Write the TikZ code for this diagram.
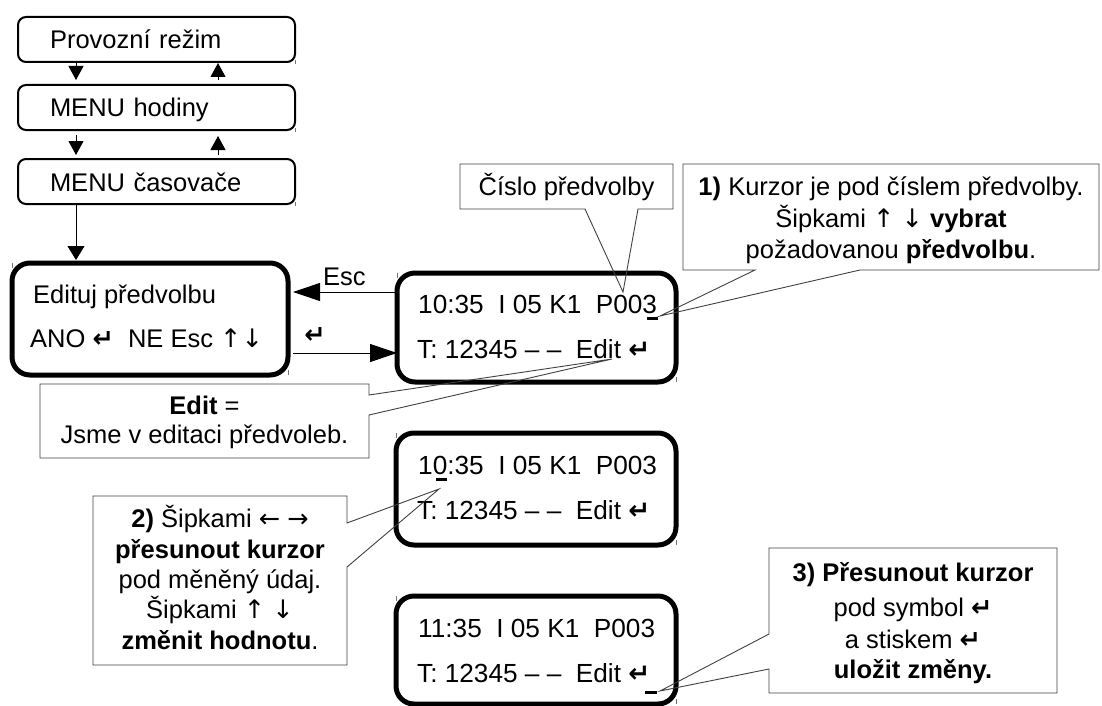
\documentclass[tikz,border=0pt]{standalone}
\usepackage{fontspec}
\setmainfont{Liberation Sans}
\newfontfamily\dvsans{DejaVu Sans}
\usetikzlibrary{arrows.meta,calc}

% key symbols
\newcommand\keyEnter{{\dvsans\bfseries ↵}}
\newcommand\keyUp{{\dvsans ↑}}
\newcommand\keyDown{{\dvsans ↓}}
\newcommand\keyLeft{{\dvsans ←}}
\newcommand\keyRight{{\dvsans →}}

\begin{document}
\begin{tikzpicture}[x=1pt,y=-1pt,
  font=\fontsize{25.5}{30}\selectfont,
  menubox/.style={draw, line width=2pt, rounded corners=8pt, minimum width=277pt,
    minimum height=45pt, inner xsep=32pt, inner ysep=0pt, text width=213pt,
    align=left, text height=22pt, text depth=3pt, outer sep=0pt},
  lcdbox/.style={draw, line width=5pt, rounded corners=18pt, outer sep=0pt, inner sep=0pt},
  txt/.style={inner sep=0pt, anchor=base west},
  lcdtxt/.style={txt, font=\fontsize{26.2}{30}\selectfont},
  ctxt/.style={inner sep=0pt, anchor=base},
  callout/.style={draw=black!75, line width=0.9pt, line join=miter},
  flow/.style={line width=1pt, -{Triangle[width=15pt,length=14pt]}},
  bigflow/.style={line width=1pt, -{Triangle[width=18pt,length=27pt]}},
  cursor/.style={line width=3pt},
  tick/.style={draw=black!55, line width=0.8pt}
]
\useasboundingbox (0,0) rectangle (1102,706);

% ---- menu levels ----
\node[menubox] (prov) at (156.5,39.5) {Provozní režim};
\node[menubox] (hod)  at (156.5,107.5) {MENU hodiny};
\node[menubox] (cas)  at (156.5,181.5) {MENU časovače};

\draw[flow, shorten >=5pt] ($(prov.south west)+(58,0)$) -- ($(hod.north west)+(58,0)$);
\draw[flow, shorten <=5pt, shorten >=1pt] ($(hod.north west)+(200,0)$) -- ($(prov.south west)+(200,0)$);
\draw[flow, shorten <=5pt, shorten >=4pt] ($(hod.south west)+(58,0)$) -- ($(cas.north west)+(58,0)$);
\draw[flow, shorten <=4pt, shorten >=6pt] ($(cas.north west)+(200,0)$) -- ($(hod.south west)+(200,0)$);

% ---- edit prompt ----
\node[lcdbox, minimum width=276pt, minimum height=112pt] (ed) at (150,319) {};
\node[txt] (edA) at (33,303) {Edituj předvolbu};
\node[txt] (edB) at (30,347) {ANO \keyEnter\ \ NE Esc \keyUp\keyDown};

\draw[line width=1pt, -{Triangle[width=17pt,length=14pt]}, shorten >=3pt]
  ($(cas.south west)+(58,0)$) -- ($(ed.north west)+(64,0)$);

% ---- displays ----
\node[lcdbox, minimum width=279pt, minimum height=109pt] (lcdA) at (536.5,327.5) {};
\node[lcdtxt] (aA) at (418,313) {10:35\ \ I 05 K1\ \ P003};
\node[lcdtxt] (aB) at (417,358) {T: 12345 – –\ \ Edit \keyEnter};

\node[lcdbox, minimum width=280pt, minimum height=112pt] (lcdB) at (536,489) {};
\node[lcdtxt] (bA) at (418,474) {10:35\ \ I 05 K1\ \ P003};
\node[lcdtxt] (bB) at (417,519) {T: 12345 – –\ \ Edit \keyEnter};

\node[lcdbox, minimum width=280pt, minimum height=108pt] (lcdC) at (536,650) {};
\node[lcdtxt] (cA) at (418,637) {11:35\ \ I 05 K1\ \ P003};
\node[lcdtxt] (cB) at (417,682) {T: 12345 – –\ \ Edit \keyEnter};

% cursors
\draw[cursor] (647,318) coordinate (curA) -- (658,318) coordinate (curAe);
\draw[cursor] (436,479) coordinate (curB) -- (447,479) coordinate (curBe);
\draw[cursor] (645,692) coordinate (curC) -- (657,692) coordinate (curCe);

% selection ticks
\foreach \b in {ed,lcdA,lcdB,lcdC}{
  \draw[tick] (\b.north west) -- ++(0,5);
  \draw[tick] (\b.south east) -- ++(0,-5);
}
\foreach \b in {prov,hod,cas}{
  \draw[tick] ($(\b.south east)+(0,-2)$) -- ++(0,4);
}

% ---- transitions between prompt and display ----
\coordinate (escA) at ($(lcdA.north west)+(0,19)$);
\draw[bigflow, shorten >=5pt] (escA) -- (escA -| ed.east);
\node[txt] (escL) at (323,285) {Esc};

\coordinate (entA) at ($(ed.north east)+(0,90)$);
\draw[bigflow, shorten <=5pt] (entA) -- (entA -| lcdA.west);
\node[inner sep=0pt] (entL) at (315,336) {\keyEnter};

% ---- callouts ----
\coordinate (cisTip) at (623,292);
\draw[callout] (460,164) -- (673,164) -- (673,209) -- (638,209) -- (cisTip)
  -- (585,209) -- (460,209) -- cycle;
\node[ctxt] (cisT) at (566.5,195) {Číslo předvolby};

\coordinate (tipA) at (660,316);
\draw[callout] (683,164) -- (1099,164) -- (1099,270) -- (860,270) -- (tipA)
  -- (755,270) -- (683,270) -- cycle;
\node[ctxt] (noteA1) at (891,195) {\textbf{1)} Kurzor je pod číslem předvolby.};
\node[ctxt] (noteA2) at (891,227) {Šipkami \keyUp\ \keyDown\ \textbf{vybrat}};
\node[ctxt] (noteA3) at (891,258) {požadovanou \textbf{předvolbu}.};

\coordinate (tipE) at (612,359);
\draw[callout] (40,384) -- (369,384) -- (369,395) -- (tipE) -- (369,415)
  -- (369,458) -- (40,458) -- cycle;
\node[ctxt] (noteE1) at (204.5,414) {\textbf{Edit} =};
\node[ctxt] (noteE2) at (204.5,443) {Jsme v editaci předvoleb.};

\coordinate (tipB) at (439,489);
\draw[callout] (93,496) -- (347,496) -- (347,523) -- (tipB) -- (347,567)
  -- (347,665) -- (93,665) -- cycle;
\node[ctxt] (noteB1) at (220,527) {\textbf{2)} Šipkami \keyLeft\ \keyRight};
\node[ctxt] (noteB2) at (220,558) {\textbf{přesunout kurzor}};
\node[ctxt] (noteB3) at (220,588) {pod měněný údaj.};
\node[ctxt] (noteB4) at (220,618) {Šipkami \keyUp\ \keyDown};
\node[ctxt] (noteB5) at (220,649) {\textbf{změnit hodnotu}.};

\coordinate (tipC) at (660,691);
\draw[callout] (769,548) -- (1057,548) -- (1057,693) -- (769,693) -- (769,669)
  -- (tipC) -- (769,634) -- cycle;
\node[ctxt] (noteC1) at (913,581) {\textbf{3) Přesunout kurzor}};
\node[ctxt] (noteC2) at (913,616) {pod symbol \keyEnter};
\node[ctxt] (noteC3) at (913,648) {a stiskem \keyEnter};
\node[ctxt] (noteC4) at (913,678) {\textbf{uložit změny.}};
\end{tikzpicture}
\end{document}
